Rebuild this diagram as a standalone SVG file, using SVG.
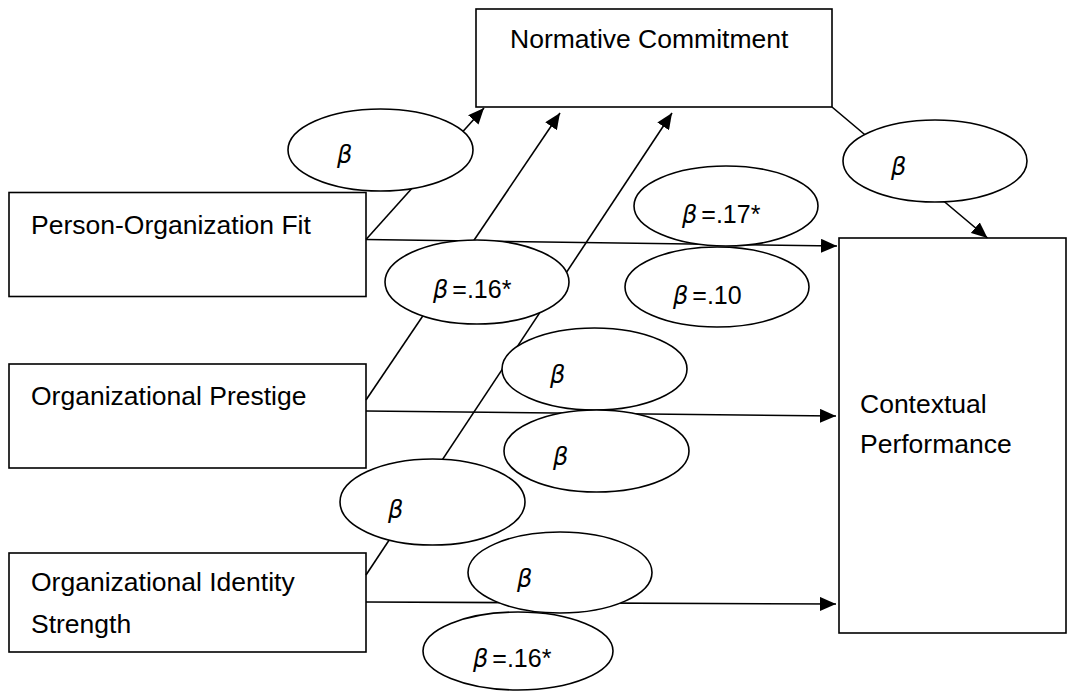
<svg xmlns="http://www.w3.org/2000/svg" width="1068" height="691" viewBox="0 0 1068 691">
<style>
.box{fill:#fff;stroke:#000;stroke-width:1.6}
.lbl{font-family:"Liberation Sans",Arial,sans-serif;font-size:26.5px;fill:#000}
.conn{stroke:#000;stroke-width:1.6;fill:none}
.ell{fill:#fff;stroke:#000;stroke-width:1.6}
.b{font-family:"DejaVu Sans",sans-serif;font-style:oblique;font-size:24px;font-weight:normal}
.bt{font-family:"Liberation Sans",Arial,sans-serif;font-size:25px;fill:#000}
</style>
<defs>
<marker id="arr" markerUnits="userSpaceOnUse" markerWidth="17" markerHeight="14" refX="16" refY="7" orient="auto">
<path d="M0,0 L16,7 L0,14 z" fill="#000"/>
</marker>
</defs>
<rect width="1068" height="691" fill="#fff"/>
<g id="nc"><rect class="box" x="476" y="9" width="356" height="98"/><text class="lbl" x="510" y="47.5">Normative Commitment</text></g>
<g id="pof"><rect class="box" x="9" y="192.5" width="357" height="104"/><text class="lbl" x="31" y="234">Person-Organization Fit</text></g>
<g id="op"><rect class="box" x="9" y="364" width="357" height="104"/><text class="lbl" x="31" y="405">Organizational Prestige</text></g>
<g id="ois"><rect class="box" x="9" y="553" width="357" height="99"/><text class="lbl" x="31" y="591">Organizational Identity</text><text class="lbl" x="31" y="633">Strength</text></g>
<g id="cp"><rect class="box" x="839" y="238" width="227" height="395"/><text class="lbl" x="860" y="413">Contextual</text><text class="lbl" x="860" y="453">Performance</text></g>
<g id="connectors">
<line class="conn" x1="366" y1="239.5" x2="837" y2="246" marker-end="url(#arr)"/>
<line class="conn" x1="366" y1="411" x2="836" y2="416" marker-end="url(#arr)"/>
<line class="conn" x1="366" y1="602" x2="836" y2="604" marker-end="url(#arr)"/>
<line class="conn" x1="366" y1="239.5" x2="484" y2="108" marker-end="url(#arr)"/>
<line class="conn" x1="366" y1="400" x2="560" y2="113" marker-end="url(#arr)"/>
<line class="conn" x1="366" y1="575" x2="672" y2="113" marker-end="url(#arr)"/>
<line class="conn" x1="832" y1="107" x2="987.5" y2="238" marker-end="url(#arr)"/>
</g>
<g id="labels">
<g id="l1"><ellipse class="ell" cx="380.5" cy="150" rx="92.5" ry="41"/><text class="bt" x="337" y="163"><tspan class="b">β</tspan></text></g>
<g id="l2"><ellipse class="ell" cx="935" cy="161" rx="92" ry="41"/><text class="bt" x="891" y="175"><tspan class="b">β</tspan></text></g>
<g id="l3"><ellipse class="ell" cx="726" cy="206" rx="92" ry="40"/><text class="bt" x="682" y="223"><tspan class="b">β</tspan><tspan dx="4">=.17*</tspan></text></g>
<g id="l4"><ellipse class="ell" cx="717" cy="287" rx="92" ry="40"/><text class="bt" x="673" y="304"><tspan class="b">β</tspan><tspan dx="4">=.10</tspan></text></g>
<g id="l5"><ellipse class="ell" cx="477" cy="282" rx="92" ry="42"/><text class="bt" x="433" y="298"><tspan class="b">β</tspan><tspan dx="4">=.16*</tspan></text></g>
<g id="l6"><ellipse class="ell" cx="594.5" cy="369" rx="92.5" ry="41"/><text class="bt" x="550" y="383"><tspan class="b">β</tspan></text></g>
<g id="l7"><ellipse class="ell" cx="596.5" cy="451" rx="92.5" ry="41"/><text class="bt" x="553" y="465"><tspan class="b">β</tspan></text></g>
<g id="l8"><ellipse class="ell" cx="432.5" cy="502" rx="92.5" ry="43"/><text class="bt" x="388" y="518"><tspan class="b">β</tspan></text></g>
<g id="l9"><ellipse class="ell" cx="560" cy="572.5" rx="92" ry="40.5"/><text class="bt" x="517" y="587"><tspan class="b">β</tspan></text></g>
<g id="l10"><ellipse class="ell" cx="518" cy="651" rx="95" ry="39"/><text class="bt" x="473" y="667"><tspan class="b">β</tspan><tspan dx="4">=.16*</tspan></text></g>
</g>
</svg>
